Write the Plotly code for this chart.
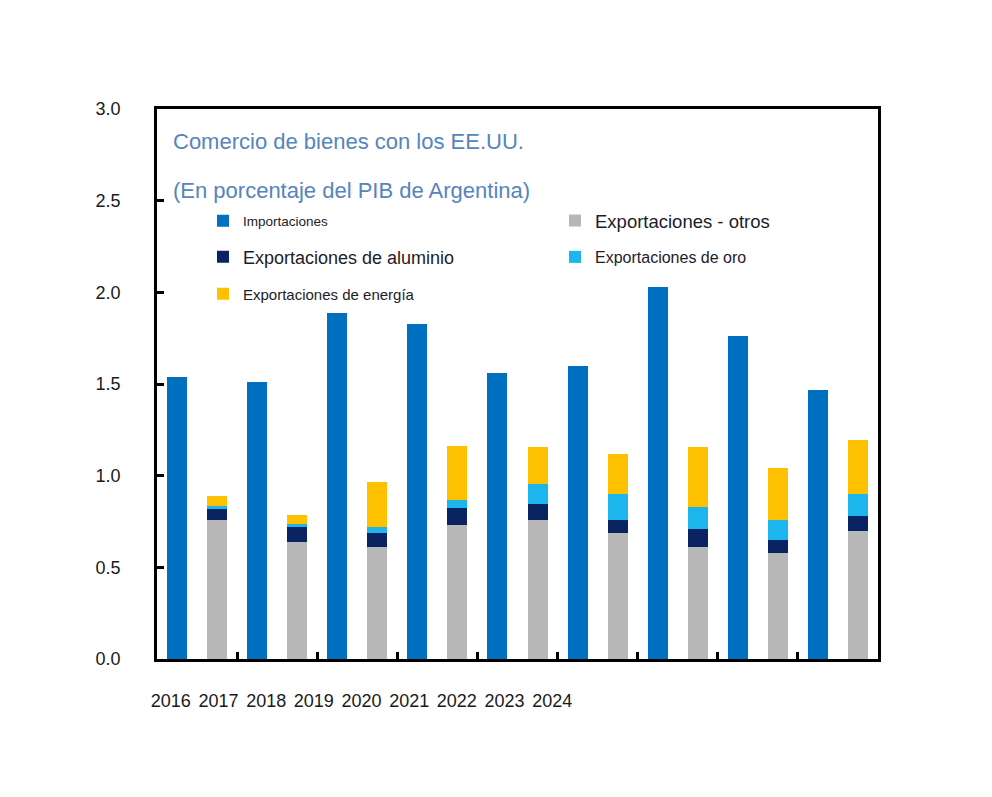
import plotly.graph_objects as go

years = [2016, 2017, 2018, 2019, 2020, 2021, 2022, 2023, 2024]
year_labels = [str(y) for y in years]

importaciones = [1.54, 1.51, 1.89, 1.83, 1.56, 1.60, 2.03, 1.76, 1.47]
exp_otros = [0.76, 0.64, 0.61, 0.73, 0.76, 0.685, 0.61, 0.58, 0.70]
exp_aluminio = [0.06, 0.085, 0.08, 0.095, 0.085, 0.075, 0.10, 0.07, 0.08]
exp_oro = [0.015, 0.01, 0.03, 0.04, 0.11, 0.14, 0.12, 0.11, 0.12]
exp_energia = [0.055, 0.05, 0.245, 0.295, 0.20, 0.22, 0.325, 0.28, 0.295]

title_line1 = "Comercio de bienes con los EE.UU."
title_line2 = "(En porcentaje del PIB de Argentina)"

C_IMP = "#0070C0"
C_OTROS = "#B7B7B7"
C_ALU = "#0A2463"
C_ORO = "#1CB5EE"
C_ENE = "#FFC000"
C_TITLE = "#5585BC"
FONT = "Liberation Sans, Arial, sans-serif"

BAR_W = 0.25
x_imp = [y - BAR_W for y in years]
x_exp = [y + BAR_W for y in years]

fig = go.Figure()

fig.add_trace(go.Bar(x=x_imp, y=importaciones, width=BAR_W, name="Importaciones",
                     marker=dict(color=C_IMP, line=dict(width=0)), legend="legend"))
fig.add_trace(go.Bar(x=x_exp, y=exp_otros, width=BAR_W, name="Exportaciones - otros",
                     marker=dict(color=C_OTROS, line=dict(width=0)), legend="legend4"))
fig.add_trace(go.Bar(x=x_exp, y=exp_aluminio, width=BAR_W, name="Exportaciones de aluminio",
                     marker=dict(color=C_ALU, line=dict(width=0)), legend="legend2"))
fig.add_trace(go.Bar(x=x_exp, y=exp_oro, width=BAR_W, name="Exportaciones de oro",
                     marker=dict(color=C_ORO, line=dict(width=0)), legend="legend5"))
fig.add_trace(go.Bar(x=x_exp, y=exp_energia, width=BAR_W, name="Exportaciones de energía",
                     marker=dict(color=C_ENE, line=dict(width=0)), legend="legend3"))

# invisible carrier trace for the (unaligned) year label axis
fig.add_trace(go.Scatter(x=years, y=[0] * len(years), xaxis="x2", yaxis="y",
                         mode="markers", marker=dict(opacity=0), showlegend=False,
                         hoverinfo="skip"))

W, H = 992, 797
ML, MR, MT, MB = 80, 114, 109, 60
pw = W - ML - MR
ph = H - MT - MB


def px_x(p):
    return (p - ML) / pw


def px_y(p):
    return (H - MB - p) / ph


def leg(x_px, y_px, size):
    return dict(x=px_x(x_px), y=px_y(y_px), xanchor="left", yanchor="middle",
                bgcolor="rgba(0,0,0,0)", borderwidth=0,
                font=dict(family=FONT, size=size, color="#1c1c2a"),
                itemclick=False, itemdoubleclick=False)


fig.update_layout(
    width=W, height=H,
    margin=dict(l=ML, r=MR, t=MT, b=MB),
    paper_bgcolor="white", plot_bgcolor="rgba(0,0,0,0)",
    barmode="stack",
    showlegend=True,
    font=dict(family=FONT, size=18, color="#1a1a1a"),
    xaxis=dict(domain=[px_x(157), 1], range=[years[0] - 0.5, years[-1] + 0.5],
               tickmode="array", tickvals=[y + 0.5 for y in years[:-1]],
               ticks="inside", ticklen=7, tickwidth=2.5, tickcolor="black",
               showticklabels=False, showline=True, linecolor="black", linewidth=2.5,
               mirror=True, showgrid=False, zeroline=False),
    xaxis2=dict(domain=[px_x(147), px_x(576)], range=[years[0] - 0.5, years[-1] + 0.5],
                anchor="free", position=px_y(688),
                tickmode="array", tickvals=years, ticktext=year_labels,
                ticks="", showline=False, showgrid=False, zeroline=False,
                tickfont=dict(family=FONT, size=18, color="#1a1a1a")),
    yaxis=dict(domain=[px_y(659), 1], range=[0, 3], dtick=0.5, tickformat=".1f",
               ticks="inside", ticklen=7, tickwidth=2.5, tickcolor="black",
               ticklabelstandoff=30,
               showline=True, linecolor="black", linewidth=2.5, mirror=True,
               showgrid=False, zeroline=False,
               tickfont=dict(family=FONT, size=18, color="#1a1a1a")),
    legend=leg(203, 221, 13.5),
    legend2=leg(203, 257, 18),
    legend3=leg(203, 294, 15),
    legend4=leg(555, 221, 18.5),
    legend5=leg(555, 257, 16),
    annotations=[
        dict(text=title_line1, xref="paper", yref="paper", x=px_x(171), y=px_y(141),
             xanchor="left", yanchor="middle", showarrow=False,
             font=dict(family=FONT, size=22, color=C_TITLE)),
        dict(text=title_line2, xref="paper", yref="paper", x=px_x(171), y=px_y(190),
             xanchor="left", yanchor="middle", showarrow=False,
             font=dict(family=FONT, size=22, color=C_TITLE)),
    ],
)

fig.write_html("out.html")
